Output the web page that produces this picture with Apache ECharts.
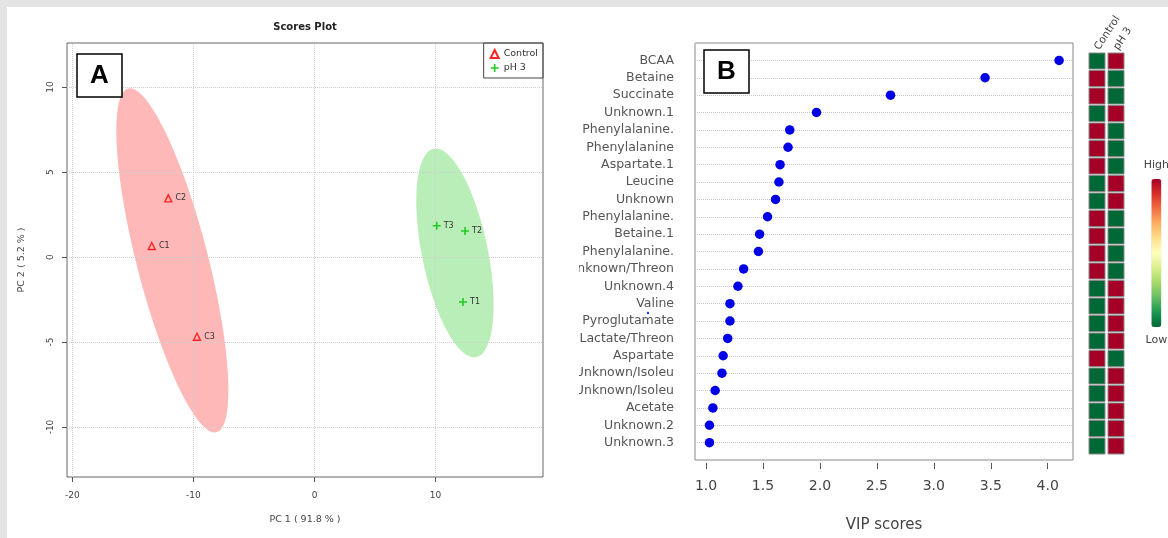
<!DOCTYPE html>
<html>
<head>
<meta charset="utf-8">
<script src="https://cdn.jsdelivr.net/npm/echarts@6/dist/echarts.min.js"></script>
<style>
html,body{margin:0;padding:0;background:#fff;}
#chart{width:1168px;height:538px;}
</style>
</head>
<body>
<div id="chart"></div>
<script>
// ---------- Panel A: PCA scores ----------
const controlNames = ['C1', 'C2', 'C3'];
const controlPC1 = [-13.45, -12.08, -9.71];
const controlPC2 = [0.65, 3.45, -4.69];
const ph3Names = ['T1', 'T2', 'T3'];
const ph3PC1 = [12.27, 12.44, 10.10];
const ph3PC2 = [-2.65, 1.53, 1.84];
const pc1Ticks = [-20, -10, 0, 10];
const pc2Ticks = [-10, -5, 0, 5, 10];

// ---------- Panel B: VIP scores ----------
const vipFeatures = ['BCAA', 'Betaine', 'Succinate', 'Unknown.1', 'Phenylalanine.', 'Phenylalanine',
  'Aspartate.1', 'Leucine', 'Unknown', 'Phenylalanine.', 'Betaine.1', 'Phenylalanine.',
  'Unknown/Threon', 'Unknown.4', 'Valine', 'Pyroglutamate', 'Lactate/Threon', 'Aspartate',
  'Unknown/Isoleu', 'Unknown/Isoleu', 'Acetate', 'Unknown.2', 'Unknown.3'];
const vipScores = [4.10, 3.45, 2.62, 1.97, 1.735, 1.72, 1.65, 1.64, 1.61, 1.54, 1.47, 1.46,
  1.33, 1.28, 1.21, 1.21, 1.19, 1.15, 1.14, 1.08, 1.06, 1.03, 1.03];
const vipTicks = [1.0, 1.5, 2.0, 2.5, 3.0, 3.5, 4.0];
const groupNames = ['Control', 'pH 3'];
// relative level per feature: 1 = high, 0 = low
const controlLevel = [0,1,1,0,1,1,1,0,0,1,1,1,1,0,0,0,0,1,0,0,0,0,0];
const ph3Level     = [1,0,0,1,0,0,0,1,1,0,0,0,0,1,1,1,1,0,1,1,1,1,1];

// 95% confidence ellipse (chi-square, 2 df) derived from the group points
const CHI95 = Math.sqrt(5.991464547);
function ellipseOf(xs, ys) {
  const n = xs.length;
  const mx = xs.reduce((a, b) => a + b, 0) / n;
  const my = ys.reduce((a, b) => a + b, 0) / n;
  let sxx = 0, syy = 0, sxy = 0;
  for (let i = 0; i < n; i++) {
    sxx += (xs[i] - mx) ** 2; syy += (ys[i] - my) ** 2; sxy += (xs[i] - mx) * (ys[i] - my);
  }
  sxx /= n - 1; syy /= n - 1; sxy /= n - 1;
  const h = (sxx + syy) / 2, d = Math.sqrt(((sxx - syy) / 2) ** 2 + sxy ** 2);
  return { mx, my, l1: h + d, l2: h - d, phi: 0.5 * Math.atan2(2 * sxy, sxx - syy) };
}
function ellipseSeries(name, xs, ys, fill) {
  const e = ellipseOf(xs, ys);
  return {
    name: name, type: 'custom', xAxisIndex: 0, yAxisIndex: 0, z: 1, silent: true,
    data: [[e.mx, e.my]],
    renderItem: function (params, api) {
      const pts = [];
      const a = CHI95 * Math.sqrt(e.l1), b = CHI95 * Math.sqrt(Math.max(e.l2, 0));
      const c = Math.cos(e.phi), s = Math.sin(e.phi);
      for (let k = 0; k <= 120; k++) {
        const t = k / 120 * 2 * Math.PI;
        const u = a * Math.cos(t), v = b * Math.sin(t);
        pts.push(api.coord([e.mx + u * c - v * s, e.my + u * s + v * c]));
      }
      return { type: 'polygon', shape: { points: pts }, style: { fill: fill } };
    }
  };
}

const heatData = [];
for (let i = 0; i < vipFeatures.length; i++) {
  heatData.push([0, i + 1, controlLevel[i]]);
  heatData.push([1, i + 1, ph3Level[i]]);
}
const rdYlGn = ['#006837', '#1a9850', '#66bd63', '#a6d96a', '#d9ef8b', '#ffffbf',
  '#fee08b', '#fdae61', '#f46d43', '#d73027', '#a50026'];

const smallFont = 'DejaVu Sans';
const chart = echarts.init(document.getElementById('chart'), null, { renderer: 'canvas' });
chart.setOption({
  animation: false,
  backgroundColor: '#ffffff',
  grid: [
    { left: 67, top: 43, width: 476, height: 434, show: true, borderColor: '#666', borderWidth: 1 },
    { left: 695, top: 43, width: 378, height: 420, show: true, borderColor: '#888', borderWidth: 1 },
    { left: 1087.5, top: 50, width: 38, height: 413, show: false }
  ],
  legend: {
    data: groupNames, orient: 'vertical', right: 625, top: 43,
    borderColor: '#444', borderWidth: 1, padding: [6, 5, 5, 6], itemGap: 4,
    itemWidth: 8, itemHeight: 8,
    textStyle: { fontSize: 9.5, color: '#333', fontFamily: smallFont }
  },
  xAxis: [
    { gridIndex: 0, type: 'value', min: -20.45, max: 18.88,
      axisLine: { show: false, onZero: false },
      axisTick: { customValues: pc1Ticks, length: 5, lineStyle: { color: '#555' } },
      axisLabel: { customValues: pc1Ticks, fontSize: 9, color: '#444', margin: 14, fontFamily: smallFont },
      splitLine: { show: false },
      name: 'PC 1 ( 91.8 % )', nameLocation: 'middle', nameGap: 38,
      nameTextStyle: { fontSize: 9.5, color: '#444', fontFamily: smallFont } },
    { gridIndex: 1, type: 'value', min: 0.903, max: 4.222, offset: 3,
      axisLine: { show: false, onZero: false },
      axisTick: { customValues: vipTicks, length: 6, lineStyle: { color: '#555' } },
      axisLabel: { customValues: vipTicks, formatter: v => v.toFixed(1), fontSize: 14, color: '#444', margin: 16, fontFamily: smallFont },
      splitLine: { show: false },
      name: 'VIP scores', nameLocation: 'middle', nameGap: 55,
      nameTextStyle: { fontSize: 15, color: '#444', fontFamily: smallFont } },
    { gridIndex: 2, type: 'category', data: groupNames, position: 'top',
      axisLine: { show: false, onZero: false }, axisTick: { show: false },
      axisLabel: { rotate: -57, fontSize: 10.5, color: '#444', margin: 1, fontFamily: smallFont },
      splitLine: { show: false } }
  ],
  yAxis: [
    { gridIndex: 0, type: 'value', min: -12.94, max: 12.59,
      axisLine: { show: false, onZero: false },
      axisTick: { customValues: pc2Ticks, length: 5, lineStyle: { color: '#555' } },
      axisLabel: { customValues: pc2Ticks, rotate: 90, fontSize: 9, color: '#444', margin: 12, fontFamily: smallFont },
      splitLine: { show: false },
      name: 'PC 2 ( 5.2 % )', nameLocation: 'middle', nameGap: 40, nameRotate: 90,
      nameTextStyle: { fontSize: 9.5, color: '#444', fontFamily: smallFont } },
    { gridIndex: 1, type: 'value', inverse: true, min: 0, max: 24, interval: 1,
      axisLine: { show: false, onZero: false }, axisTick: { show: false },
      axisLabel: { formatter: v => (v >= 1 && v <= vipFeatures.length ? vipFeatures[v - 1] : ''),
        fontSize: 12.5, color: '#555', margin: 21, fontFamily: smallFont },
      splitLine: { show: true, lineStyle: { type: 'dotted', color: '#c8c8c8', width: 1 } } },
    { gridIndex: 2, type: 'value', inverse: true, min: 0.3714, max: 23.9714, show: false }
  ],
  visualMap: [{
    type: 'continuous', seriesIndex: [5], dimension: 2, min: 0, max: 1,
    calculable: false, orient: 'vertical', right: -16, top: 145, show: true,
    itemWidth: 10, itemHeight: 148, text: ['High', 'Low'], textGap: 8,
    textStyle: { fontSize: 11, color: '#444', fontFamily: smallFont },
    inRange: { color: rdYlGn }
  }],
  series: [
    ellipseSeries('ellipse-control', controlPC1, controlPC2, '#FFB8B8'),
    ellipseSeries('ellipse-ph3', ph3PC1, ph3PC2, '#B9EEB9'),
    { name: 'Control', type: 'scatter', xAxisIndex: 0, yAxisIndex: 0, z: 3,
      data: controlPC1.map((x, i) => [x, controlPC2[i], controlNames[i]]),
      symbol: 'triangle', symbolSize: 7,
      itemStyle: { color: 'rgba(255,255,255,0)', borderColor: '#FF2222', borderWidth: 1.4, opacity: 1 },
      label: { show: true, position: 'right', distance: 3, formatter: p => p.data[2],
        fontSize: 8, color: '#333', fontFamily: smallFont },
      markLine: { silent: true, symbol: ['none', 'none'], label: { show: false }, z: 2,
        lineStyle: { type: 'dotted', color: '#cfcfcf', width: 1 },
        data: pc1Ticks.map(v => ({ xAxis: v })).concat(pc2Ticks.map(v => ({ yAxis: v }))) } },
    { name: 'pH 3', type: 'scatter', xAxisIndex: 0, yAxisIndex: 0, z: 3,
      data: ph3PC1.map((x, i) => [x, ph3PC2[i], ph3Names[i]]),
      symbol: 'path://M4,0H6V4H10V6H6V10H4V6H0V4H4Z', symbolSize: 8,
      itemStyle: { color: '#22CC22', opacity: 1 },
      label: { show: true, position: 'right', distance: 3, formatter: p => p.data[2],
        fontSize: 8, color: '#333', fontFamily: smallFont } },
    { name: 'VIP', type: 'scatter', xAxisIndex: 1, yAxisIndex: 1, z: 3,
      data: vipScores.map((v, i) => [v, i + 1]),
      symbol: 'circle', symbolSize: 9.5, itemStyle: { color: '#0000E6', opacity: 1 } },
    { name: 'levels', type: 'scatter', xAxisIndex: 2, yAxisIndex: 2,
      data: heatData, symbol: 'rect', symbolSize: 16,
      itemStyle: { borderColor: '#888', borderWidth: 1, opacity: 1 } }
  ],
  graphic: [
    { type: 'rect', shape: { x: 0, y: 0, width: 1168, height: 7 }, style: { fill: '#e4e4e4' }, z: 100 },
    { type: 'rect', shape: { x: 0, y: 0, width: 7, height: 538 }, style: { fill: '#e4e4e4' }, z: 100 },
    { type: 'rect', shape: { x: 546, y: 45, width: 33, height: 420 }, style: { fill: '#fff' }, z: 90 },
    { type: 'text', x: 305, y: 27, style: { text: 'Scores Plot', fontSize: 10, fontWeight: 'bold',
      fill: '#222', fontFamily: smallFont, align: 'center', verticalAlign: 'middle' }, z: 50 },
    { type: 'rect', shape: { x: 77, y: 54, width: 45, height: 43 },
      style: { fill: '#fff', stroke: '#000', lineWidth: 1.5 }, z: 50 },
    { type: 'text', x: 99.5, y: 76, style: { text: 'A', fontSize: 26, fontWeight: 'bold', fill: '#000',
      fontFamily: 'Liberation Sans', align: 'center', verticalAlign: 'middle' }, z: 51 },
    { type: 'rect', shape: { x: 704, y: 50, width: 45, height: 43 },
      style: { fill: '#fff', stroke: '#000', lineWidth: 1.5 }, z: 50 },
    { type: 'text', x: 726.5, y: 72, style: { text: 'B', fontSize: 26, fontWeight: 'bold', fill: '#000',
      fontFamily: 'Liberation Sans', align: 'center', verticalAlign: 'middle' }, z: 51 },
    { type: 'circle', shape: { cx: 648, cy: 313, r: 1.2 }, style: { fill: '#2233ff' }, z: 50 }
  ]
});
</script>
</body>
</html>
